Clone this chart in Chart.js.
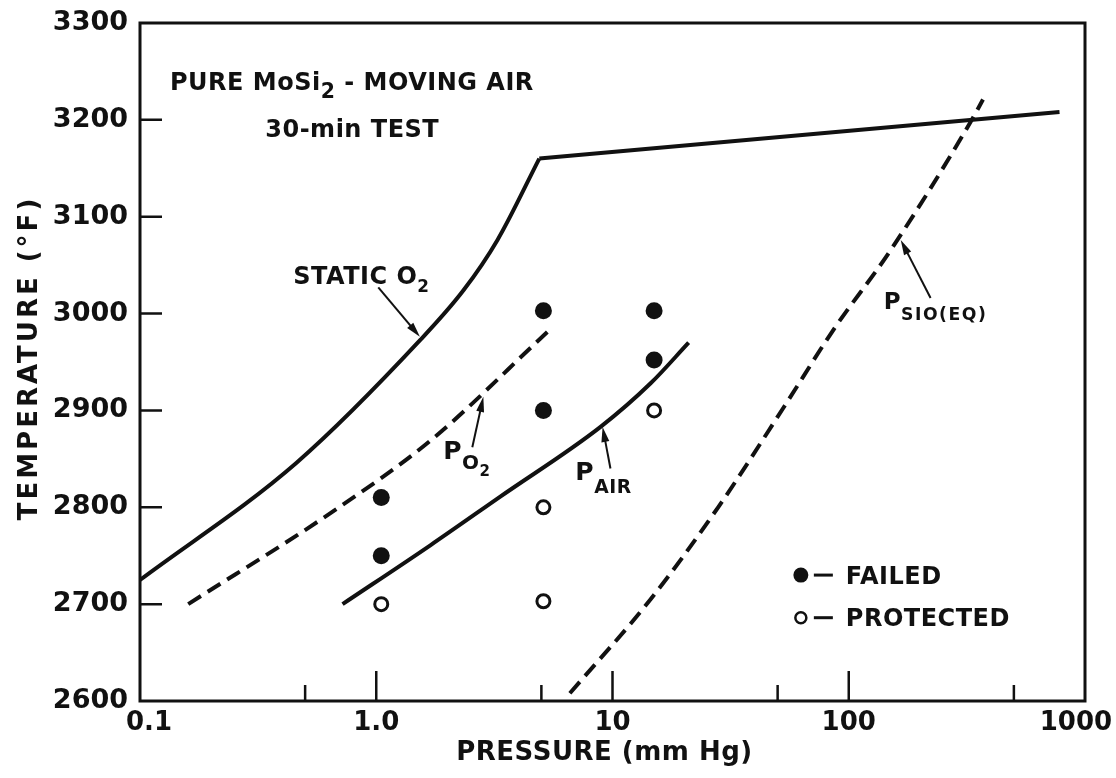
<!DOCTYPE html>
<html>
<head>
<meta charset="utf-8">
<title>Pure MoSi2 - moving air</title>
<script src="https://cdn.jsdelivr.net/npm/chart.js@4.4.1/dist/chart.umd.min.js"></script>
<style>
    html, body { margin: 0; padding: 0; background: #fff; }
    #wrap { width: 1116px; height: 778px; }
</style>
</head>
<body>
<div id="wrap"><canvas id="oxidationChart" width="1116" height="778"></canvas></div>
<script>
// Axis ticks
const xTickValues = [0.1, 1, 10, 100, 1000];
const xTickLabels = ['0.1', '1.0', '10', '100', '1000'];
const xMinorTicks = [0.5, 5, 50, 500];
const yTickValues = [2600, 2700, 2800, 2900, 3000, 3100, 3200, 3300];

// Boundary curves as [pressure (mm Hg), temperature (°F)]
const staticO2Curve = [[0.1, 2725], [0.46, 2846], [1.54, 2973], [2.34, 3024], [3.26, 3076], [4.9, 3160]];
const staticO2Plateau = [[4.9, 3160], [780, 3208]];
const pO2Curve = [[0.16, 2700], [0.64, 2794], [1.7, 2869], [5.3, 2981]];
const pAirCurve = [[0.72, 2700], [1.7, 2761], [3.35, 2811], [8.9, 2883], [14.5, 2928], [21, 2970]];
const pSiOCurve = [[6.6, 2608], [14.5, 2705], [28, 2800], [53, 2903], [86, 2983], [150, 3065], [330, 3199], [370, 3221]];

// 30-min test results
const failedPoints = [[1.05, 2810], [1.05, 2750], [5.1, 3003], [5.1, 2900], [15, 3003], [15, 2952]];
const protectedPoints = [[1.05, 2700], [5.1, 2800], [5.1, 2703], [15, 2900]];

const INK = '#111';
const FONT = '"DejaVu Sans", "Liberation Sans", sans-serif';

// Labels placed in data space: left edge + vertical centre of the capitals
const notes = [
    { at: [0.134, 3240], size: 24, parts: [{ t: 'PURE MoSi' }, { t: '2', s: 0.85, dy: 8 }, { t: ' - MOVING AIR' }] },
    { at: [0.339, 3191], size: 24, parts: [{ t: '30-min TEST' }] },
    { at: [0.445, 3040], size: 24, parts: [{ t: 'STATIC O' }, { t: '2', s: 0.7, dy: 8 }] },
    { at: [1.92, 2859], size: 25, parts: [{ t: 'P' }, { t: 'O', s: 0.8, dy: 10 }, { t: '2', s: 0.6, dy: 17 }] },
    { at: [6.96, 2838], size: 25, parts: [{ t: 'P' }, { t: 'AIR', s: 0.75, dy: 13 }] },
    { at: [140.6, 3013], size: 23, parts: [{ t: 'P' }, { t: 'SIO(EQ)', s: 0.75, dy: 11, ls: 1.5 }] }
];

const arrows = [
    { from: [1.02, 3027], to: [1.53, 2976] },
    { from: [2.55, 2862], to: [2.84, 2914] },
    { from: [9.8, 2840], to: [9.08, 2883] },
    { from: [222, 3016], to: [166, 3076] }
];

const legendRows = [
    { at: [62.7, 2730], label: 'FAILED', filled: true },
    { at: [62.7, 2686], label: 'PROTECTED', filled: false }
];

const toXY = pts => pts.map(([x, y]) => ({ x, y }));

function curve(pts, dashed) {
    return {
        data: toXY(pts),
        showLine: true,
        borderColor: INK,
        borderWidth: 4,
        borderDash: dashed ? [15, 8] : [],
        pointRadius: 0,
        cubicInterpolationMode: 'monotone',
        fill: false
    };
}

function drawRich(ctx, note, px, py) {
    const base = py + note.size * 0.729 / 2;
    let cx = px;
    note.parts.forEach(p => {
        const s = note.size * (p.s || 1);
        ctx.font = `bold ${s}px ${FONT}`;
        ctx.letterSpacing = (p.ls || 0.5) + 'px';
        ctx.fillText(p.t, cx, base + (p.dy || 0));
        cx += ctx.measureText(p.t).width;
    });
    ctx.letterSpacing = '0px';
}

function drawArrow(ctx, x1, y1, x2, y2) {
    const ang = Math.atan2(y2 - y1, x2 - x1);
    const len = 15, half = 4;
    ctx.lineWidth = 2;
    ctx.beginPath();
    ctx.moveTo(x1, y1);
    ctx.lineTo(x2 - Math.cos(ang) * len * 0.8, y2 - Math.sin(ang) * len * 0.8);
    ctx.stroke();
    ctx.beginPath();
    ctx.moveTo(x2, y2);
    ctx.lineTo(x2 - Math.cos(ang) * len - Math.sin(ang) * half, y2 - Math.sin(ang) * len + Math.cos(ang) * half);
    ctx.lineTo(x2 - Math.cos(ang) * len + Math.sin(ang) * half, y2 - Math.sin(ang) * len - Math.cos(ang) * half);
    ctx.closePath();
    ctx.fill();
}

const paperPlugin = {
    id: 'paper',
    beforeDraw(chart) {
        const ctx = chart.ctx;
        ctx.save();
        ctx.fillStyle = '#fff';
        ctx.fillRect(0, 0, chart.width, chart.height);
        ctx.restore();
    },
    afterDraw(chart) {
        const ctx = chart.ctx;
        const area = chart.chartArea;
        const xs = chart.scales.x, ys = chart.scales.y;
        ctx.save();
        ctx.strokeStyle = INK;
        ctx.fillStyle = INK;

        // frame
        ctx.lineWidth = 3;
        ctx.strokeRect(area.left, area.top, area.right - area.left, area.bottom - area.top);

        // inward tick marks
        ctx.lineWidth = 2.5;
        ctx.beginPath();
        yTickValues.slice(1, -1).forEach(v => {
            const y = ys.getPixelForValue(v);
            ctx.moveTo(area.left, y);
            ctx.lineTo(area.left + 22, y);
        });
        xTickValues.slice(1, -1).forEach(v => {
            const x = xs.getPixelForValue(v);
            ctx.moveTo(x, area.bottom);
            ctx.lineTo(x, area.bottom - 30);
        });
        xMinorTicks.forEach(v => {
            const x = xs.getPixelForValue(v);
            ctx.moveTo(x, area.bottom);
            ctx.lineTo(x, area.bottom - 16);
        });
        ctx.stroke();

        // curve labels
        ctx.textAlign = 'left';
        ctx.textBaseline = 'alphabetic';
        notes.forEach(n => {
            drawRich(ctx, n, xs.getPixelForValue(n.at[0]), ys.getPixelForValue(n.at[1]));
        });

        arrows.forEach(a => {
            drawArrow(ctx,
                xs.getPixelForValue(a.from[0]), ys.getPixelForValue(a.from[1]),
                xs.getPixelForValue(a.to[0]), ys.getPixelForValue(a.to[1]));
        });

        // key
        legendRows.forEach(r => {
            const x = xs.getPixelForValue(r.at[0]);
            const y = ys.getPixelForValue(r.at[1]);
            ctx.beginPath();
            if (r.filled) {
                ctx.arc(x, y, 7.5, 0, Math.PI * 2);
                ctx.fill();
            } else {
                ctx.lineWidth = 2.5;
                ctx.arc(x, y, 5.5, 0, Math.PI * 2);
                ctx.stroke();
            }
            ctx.fillRect(x + 13, y - 1.5, 19, 3);
            ctx.font = `bold 24px ${FONT}`;
            ctx.letterSpacing = '0.5px';
            ctx.fillText(r.label, x + 45, y + 24 * 0.729 / 2);
            ctx.letterSpacing = '0px';
        });

        // axis titles
        ctx.font = `bold 26px ${FONT}`;
        ctx.textAlign = 'center';
        ctx.textBaseline = 'middle';
        ctx.letterSpacing = '0.5px';
        ctx.fillText('PRESSURE (mm Hg)', (area.left + area.right) / 2 - 8, 753);
        ctx.letterSpacing = '3px';
        ctx.translate(30, 358);
        ctx.rotate(-Math.PI / 2);
        ctx.fillText('TEMPERATURE (°F)', 0, 0);
        ctx.restore();
    }
};

document.addEventListener('DOMContentLoaded', function() {
    const ctx = document.getElementById('oxidationChart');

    const datasets = [
        curve(staticO2Curve, false),
        { ...curve(staticO2Plateau, false), cubicInterpolationMode: 'default', tension: 0 },
        curve(pO2Curve, true),
        curve(pAirCurve, false),
        curve(pSiOCurve, true),
        {
            data: toXY(failedPoints),
            pointRadius: 8.5,
            pointBackgroundColor: INK,
            pointBorderColor: INK,
            pointBorderWidth: 0
        },
        {
            data: toXY(protectedPoints),
            pointRadius: 6.5,
            pointBackgroundColor: '#fff',
            pointBorderColor: INK,
            pointBorderWidth: 3
        }
    ];

    new Chart(ctx, {
        type: 'scatter',
        data: { datasets },
        plugins: [paperPlugin],
        options: {
            responsive: false,
            devicePixelRatio: 1,
            animation: false,
            events: [],
            layout: { padding: { top: 23, right: 31, bottom: 0, left: 0 } },
            plugins: {
                legend: { display: false },
                tooltip: { enabled: false }
            },
            scales: {
                x: {
                    type: 'logarithmic',
                    min: 0.1,
                    max: 1000,
                    grid: { display: false, drawTicks: false },
                    border: { display: false },
                    afterBuildTicks: scale => {
                        scale.ticks = xTickValues.map(v => ({ value: v }));
                    },
                    afterFit: scale => {
                        scale.height = 77;
                        scale.paddingLeft = 0;
                        scale.paddingRight = 0;
                    },
                    ticks: {
                        autoSkip: false,
                        maxRotation: 0,
                        padding: 7,
                        color: INK,
                        font: { family: FONT, size: 26, weight: 'bold' },
                        // nudge the end labels inward, as on the printed axis
                        callback: (value, index) => {
                            const label = xTickLabels[index];
                            if (index === 0) return '  ' + label;
                            if (index === xTickLabels.length - 1) return label + '  ';
                            return label;
                        }
                    }
                },
                y: {
                    type: 'linear',
                    min: 2600,
                    max: 3300,
                    grid: { display: false, drawTicks: false },
                    border: { display: false },
                    afterBuildTicks: scale => {
                        scale.ticks = yTickValues.map(v => ({ value: v }));
                    },
                    afterFit: scale => {
                        scale.width = 140;
                        scale.paddingTop = 0;
                        scale.paddingBottom = 0;
                    },
                    ticks: {
                        padding: 12,
                        color: INK,
                        font: { family: FONT, size: 27, weight: 'bold' },
                        callback: value => String(value)
                    }
                }
            }
        }
    });
});
</script>
</body>
</html>
